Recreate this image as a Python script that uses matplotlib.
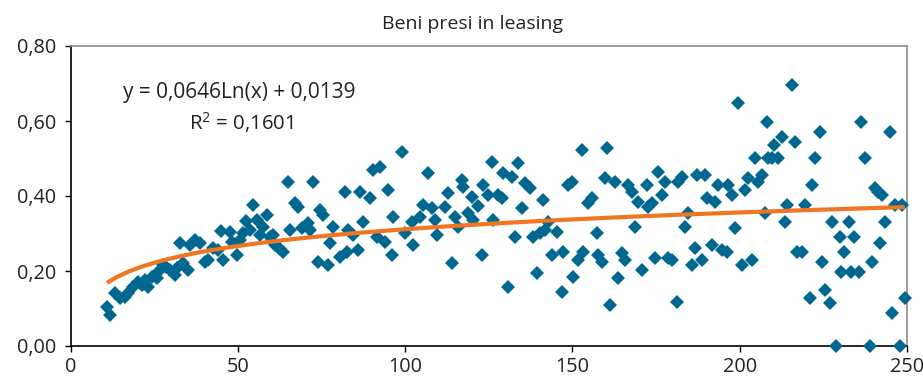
import numpy as np
import matplotlib
matplotlib.use("Agg")
import matplotlib.pyplot as plt
from matplotlib.ticker import FuncFormatter

# ---- data ----
x_vals = [
    10.9, 11.8, 13.3, 14.8, 16.3, 17.2, 18.7, 20.3, 21.3, 22.2, 23.2, 24.3, 25.8, 26.3,
    27.5, 28.4, 29.7, 31.2, 31.9, 32.8, 33.7, 35.1, 35.7, 37.3, 38.6, 40.1, 41.1, 42.7,
    44.0, 45.0, 45.5, 47.6, 48.2, 49.7, 50.7, 51.5, 52.5, 53.6, 54.5, 55.7, 56.5, 57.6,
    58.6, 59.7, 60.4, 61.2, 62.5,
    63.5, 65.1, 65.7, 67.2, 68.1, 69.3, 71.0, 71.6, 72.5, 74.0, 74.6, 75.5, 77.0, 77.6,
    78.5, 80.6, 82.1, 82.7, 83.0, 84.5, 86.0, 86.6, 87.5, 89.6, 90.4, 91.6, 92.5, 94.0,
    94.9, 96.1, 96.4, 99.1, 100.0, 102.1, 102.4, 104.5, 105.4, 106.9, 108.1, 109.0, 109.6,
    111.9, 112.8, 114.0, 114.9, 115.8, 117.0, 117.3, 118.8, 120.0, 120.3, 121.8, 123.0,
    123.3, 124.8, 126.0, 126.3, 127.8, 129.0, 129.3, 130.7, 131.9, 132.8, 133.7, 134.9,
    135.8, 137.3, 138.2, 139.4, 140.3, 141.2, 141.8, 142.7, 143.9, 145.4, 146.9, 147.2,
    148.7, 149.9, 150.1, 151.6, 152.8, 153.1, 154.6, 155.8, 157.3, 157.8, 158.8, 159.7,
    160.3, 161.2,
    162.7, 163.6, 164.8, 165.7, 166.6, 167.8, 168.7, 169.6, 170.7, 172.2, 172.5, 173.7,
    174.6, 175.5, 176.7, 177.6, 178.5, 179.7, 181.2, 181.5, 182.7, 183.6, 184.5, 185.7,
    186.6, 187.2, 188.7, 189.6, 190.1, 191.6, 192.5, 193.4, 194.6, 196.1, 196.4, 197.6,
    198.5, 199.4, 200.6, 201.5, 202.4, 203.6, 204.5, 205.4, 206.6, 207.5, 208.1, 208.4,
    209.6, 210.4, 211.3, 212.5, 213.4, 214.0, 215.5, 216.4, 217.0, 218.5, 219.4, 220.9,
    221.5, 222.4, 223.9, 224.5, 225.4, 226.9, 227.5, 228.9, 229.9, 230.4, 231.3, 232.8,
    233.4, 234.3, 235.8, 236.4, 237.3, 238.8, 239.4, 240.3, 241.2, 241.8, 242.4, 243.3,
    244.8, 245.4, 246.3, 247.8, 248.4, 249.3,
]
y_vals = [
    0.104, 0.083, 0.141, 0.128, 0.131, 0.141, 0.157, 0.171, 0.163, 0.176, 0.157, 0.184, 0.181, 0.197,
    0.216, 0.211, 0.203, 0.189, 0.208, 0.275, 0.221, 0.203, 0.269, 0.283, 0.275, 0.224, 0.229, 0.261,
    0.256, 0.306, 0.229, 0.304, 0.277, 0.243, 0.283, 0.301, 0.333, 0.309, 0.376, 0.336, 0.296, 0.317,
    0.349, 0.291, 0.296, 0.269, 0.260,
    0.252, 0.437, 0.309, 0.381, 0.371, 0.315, 0.328, 0.309, 0.437, 0.224, 0.363, 0.349, 0.216, 0.275,
    0.317, 0.237, 0.411, 0.251, 0.309, 0.296, 0.256, 0.411, 0.331, 0.395, 0.469, 0.291, 0.477, 0.277,
    0.416, 0.243, 0.344, 0.517, 0.301, 0.331, 0.269, 0.344, 0.376, 0.461, 0.368, 0.336, 0.296,
    0.371, 0.408, 0.221, 0.344, 0.317, 0.443, 0.424, 0.355, 0.397, 0.336, 0.373, 0.243,
    0.429, 0.403, 0.491, 0.336, 0.403, 0.395, 0.461, 0.157, 0.451, 0.291, 0.488, 0.368,
    0.435, 0.421, 0.291, 0.195, 0.301, 0.389, 0.309, 0.331, 0.243, 0.304, 0.144, 0.251,
    0.429, 0.437, 0.184, 0.229, 0.523, 0.251, 0.381, 0.395, 0.301, 0.243, 0.224, 0.448,
    0.528, 0.109,
    0.437, 0.181, 0.248, 0.229, 0.429, 0.411, 0.317, 0.384, 0.203, 0.429, 0.371, 0.381,
    0.235, 0.464, 0.403, 0.437, 0.235, 0.229, 0.117, 0.437, 0.451, 0.317, 0.355, 0.216,
    0.261, 0.456, 0.229, 0.456, 0.395, 0.269, 0.384, 0.429, 0.256, 0.251, 0.429, 0.403,
    0.315, 0.648, 0.216, 0.416, 0.448, 0.229, 0.501, 0.437, 0.456, 0.355, 0.597, 0.501,
    0.501, 0.536, 0.501, 0.557, 0.331, 0.376, 0.696, 0.544, 0.251, 0.251, 0.376, 0.128,
    0.429, 0.501, 0.571, 0.224, 0.149, 0.115, 0.331, 0.000, 0.291, 0.197, 0.251, 0.331,
    0.197, 0.291, 0.197, 0.597, 0.501, 0.000, 0.224, 0.421, 0.411, 0.275, 0.403, 0.331,
    0.571, 0.088, 0.376, 0.000, 0.376, 0.128,
]
trend_a = 0.0646
trend_b = 0.0139
title = "Beni presi in leasing"
eq_text = "y = 0,0646Ln(x) + 0,0139"
r2_text = "R$^2$ = 0,1601"
x_ticks = [0, 50, 100, 150, 200, 250]
y_ticks = [0.0, 0.2, 0.4, 0.6, 0.8]

# ---- plot ----
plt.rcParams['font.family'] = ['Open Sans', 'DejaVu Sans']
plt.rcParams['mathtext.fontset'] = 'custom'
plt.rcParams['mathtext.rm'] = 'Open Sans'
fig = plt.figure(figsize=(9.23, 3.83), dpi=100)
ax = fig.add_axes([70.5 / 923, 37 / 383, (907 - 70.5) / 923, 300 / 383])

x = np.array(x_vals)
y = np.array(y_vals)
ax.plot(x, y, linestyle='none', marker='D', markersize=7.0,
        color='#006890', markeredgewidth=0, zorder=3, clip_on=False)

xs = np.sort(x)
ax.plot(xs, trend_a * np.log(xs) + trend_b, color='#F07522', lw=3.0, zorder=4,
        solid_capstyle='butt')

ax.set_xlim(0, 250)
ax.set_ylim(0, 0.8)
ax.set_xticks(x_ticks)
ax.set_yticks(y_ticks)
ax.yaxis.set_major_formatter(FuncFormatter(lambda v, p: f"{v:.2f}".replace('.', ',')))
ax.xaxis.set_major_formatter(FuncFormatter(lambda v, p: f"{int(round(v))}"))
ax.tick_params(axis='both', direction='out', length=4, width=1, labelsize=14.3,
               color='black', labelcolor='#222222')
ax.tick_params(axis='y', pad=6)
ax.tick_params(axis='x', pad=4)

for s in ['left', 'bottom']:
    ax.spines[s].set_color('black')
    ax.spines[s].set_linewidth(1.2)
for s in ['top', 'right']:
    ax.spines[s].set_color('#8c8c8c')
    ax.spines[s].set_linewidth(1.2)

fig.text(473 / 923, 1 - 24 / 383, title, ha='center', va='center', fontsize=14, color='#222222')
ax.text(50.5, 0.677, eq_text, ha='center', va='center', fontsize=15, color='#222222')
ax.text(51.0, 0.597, r2_text, ha='center', va='center', fontsize=14.7, color='#222222')

fig.savefig('out.png', dpi=100)
